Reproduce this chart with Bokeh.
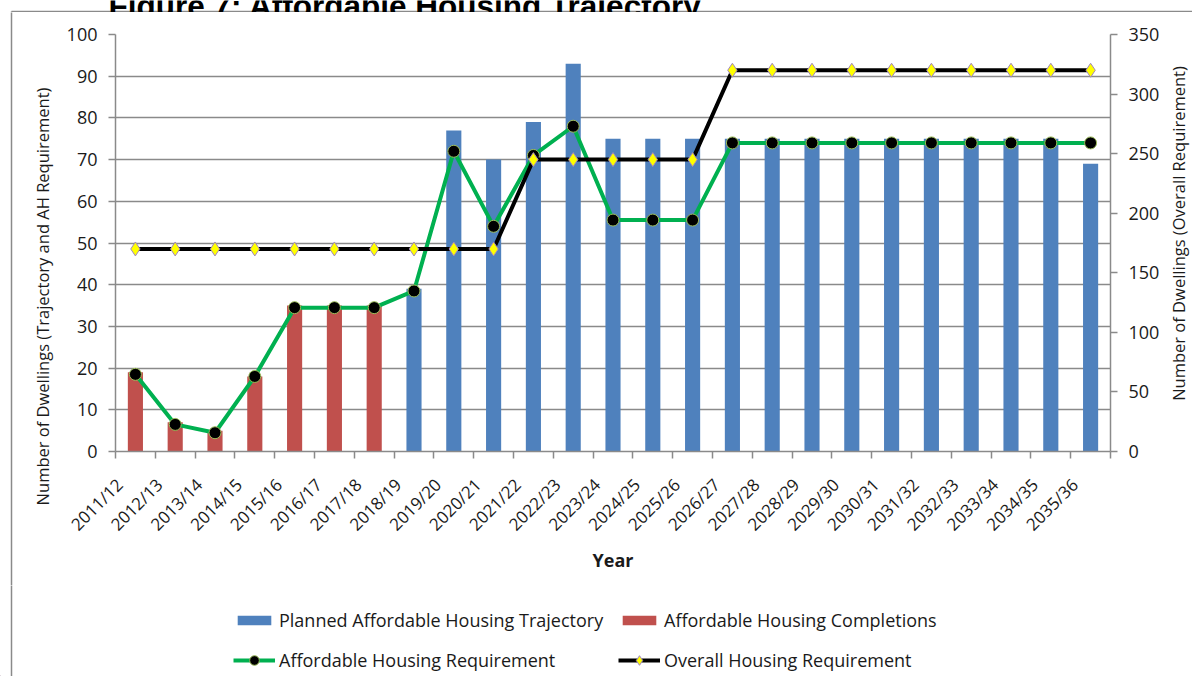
import math
from bokeh.plotting import figure
from bokeh.layouts import column, row
from bokeh.models import (Range1d, LinearAxis, FixedTicker, Legend, LegendItem,
                          Label, ColumnDataSource)
from bokeh.embed import file_html
from bokeh.resources import INLINE

# ---------------- data ----------------
years = ["2011/12", "2012/13", "2013/14", "2014/15", "2015/16", "2016/17", "2017/18",
         "2018/19", "2019/20", "2020/21", "2021/22", "2022/23", "2023/24", "2024/25",
         "2025/26", "2026/27", "2027/28", "2028/29", "2029/30", "2030/31", "2031/32",
         "2032/33", "2033/34", "2034/35", "2035/36"]
completions = [19, 7, 5, 18, 35, 35, 35, None, None, None, None, None, None, None,
               None, None, None, None, None, None, None, None, None, None, None]
trajectory = [None, None, None, None, None, None, None, 39, 77, 70, 79, 93, 75, 75,
              75, 75, 75, 75, 75, 75, 75, 75, 75, 75, 69]
ah_requirement = [18.5, 6.5, 4.5, 18, 34.5, 34.5, 34.5, 38.5, 72, 54, 71, 78, 55.5, 55.5,
                  55.5, 74, 74, 74, 74, 74, 74, 74, 74, 74, 74]
overall_requirement = [170, 170, 170, 170, 170, 170, 170, 170, 170, 170, 245, 245, 245, 245,
                       245, 320, 320, 320, 320, 320, 320, 320, 320, 320, 320]
left_ticks = [0, 10, 20, 30, 40, 50, 60, 70, 80, 90, 100]
right_ticks = [0, 50, 100, 150, 200, 250, 300, 350]

TITLE = "Figure 7: Affordable Housing Trajectory"
LEFT_TITLE = "Number of Dwellings (Trajectory and AH Requirement)"
RIGHT_TITLE = "Number of Dwellings (Overall Requirement)"
X_TITLE = "Year"
SERIES = ["Planned Affordable Housing Trajectory", "Affordable Housing Completions",
          "Affordable Housing Requirement", "Overall Housing Requirement"]

# ---------------- layout / styling ----------------
W, H = 1192, 676
TOP_H = 12                 # strip holding the cropped title
MID_H = 573                # chart row
LEG_H = H - TOP_H - MID_H  # legend strip
LEFT_W, RIGHT_W = 60, 28
P_W = W - LEFT_W - RIGHT_W
FL, FR, FT, FB = 115, 1110, 34, 451     # frame edges, page pixels

FONT = "Open Sans"
GRAY = "#8a8a8a"
TXT = "#1a1a1a"
BLUE = "#4F81BD"
RED = "#C0504D"
GREEN = "#00B050"
CIRCLE_EDGE = "#9BBB59"
DIAMOND = "#FFFF00"
DIAMOND_EDGE = "#9F86C0"


def no_frame_align(f):
    try:
        f.frame_align = False
    except Exception:
        pass


def blank(width, height):
    f = figure(width=width, height=height, x_range=Range1d(0, width),
               y_range=Range1d(0, height), output_backend="svg", toolbar_location=None,
               x_axis_location=None, y_axis_location=None,
               min_border=0, min_border_left=0, min_border_right=0,
               min_border_top=0, min_border_bottom=0)
    f.grid.visible = False
    f.outline_line_color = None
    f.background_fill_color = "white"
    f.border_fill_color = "white"
    no_frame_align(f)
    return f


n = len(years)
centers = [i + 0.5 for i in range(n)]
label_pos = [i + 0.1 for i in range(n)]

# ---------------- main chart ----------------
p = figure(width=P_W, height=MID_H, x_range=Range1d(0, n), y_range=Range1d(0, 100),
           output_backend="svg", toolbar_location=None,
           min_border_left=FL - LEFT_W, min_border_right=LEFT_W + P_W - FR,
           min_border_top=FT - TOP_H, min_border_bottom=TOP_H + MID_H - FB)
no_frame_align(p)
p.extra_y_ranges = {"overall": Range1d(0, 350)}
p.outline_line_color = None
p.background_fill_color = "white"
p.border_fill_color = "white"

tr_src = ColumnDataSource(dict(x=[centers[i] for i in range(n) if trajectory[i] is not None],
                               top=[v for v in trajectory if v is not None]))
co_src = ColumnDataSource(dict(x=[centers[i] for i in range(n) if completions[i] is not None],
                               top=[v for v in completions if v is not None]))
p.vbar(x="x", top="top", bottom=0, width=0.38, source=tr_src,
       fill_color=BLUE, line_color=None)
p.vbar(x="x", top="top", bottom=0, width=0.38, source=co_src,
       fill_color=RED, line_color=None)

ah_src = ColumnDataSource(dict(x=centers, y=ah_requirement))
p.line("x", "y", source=ah_src, line_color=GREEN, line_width=4)
p.scatter("x", "y", source=ah_src, marker="circle", size=12,
          fill_color="black", line_color=CIRCLE_EDGE, line_width=1)

ov_src = ColumnDataSource(dict(x=centers, y=overall_requirement))
p.line("x", "y", source=ov_src, line_color="black", line_width=4, y_range_name="overall")
p.scatter("x", "y", source=ov_src, marker="diamond", size=14,
          fill_color=DIAMOND, line_color=DIAMOND_EDGE, line_width=1,
          y_range_name="overall")

p.xgrid.visible = False
p.ygrid.ticker = FixedTicker(ticks=left_ticks)
p.ygrid.grid_line_color = GRAY
p.ygrid.grid_line_width = 1.5

xa = p.xaxis[0]
xa.ticker = FixedTicker(ticks=label_pos, minor_ticks=list(range(n + 1)))
xa.major_label_overrides = {c: y for c, y in zip(label_pos, years)}
xa.major_label_orientation = math.pi / 4
xa.major_tick_out = 0
xa.major_tick_in = 0
xa.minor_tick_out = 7
xa.minor_tick_in = 0
xa.minor_tick_line_color = GRAY
xa.minor_tick_line_width = 1.5
xa.axis_line_color = GRAY
xa.axis_line_width = 1.5
xa.major_label_text_font = FONT
xa.major_label_text_font_size = "17px"
xa.major_label_text_color = TXT
xa.major_label_standoff = 23
xa.axis_label = X_TITLE
xa.axis_label_text_font = FONT
xa.axis_label_text_font_style = "bold"
xa.axis_label_text_font_size = "18px"
xa.axis_label_text_color = TXT
xa.axis_label_standoff = 2

ya = p.yaxis[0]
ya.ticker = FixedTicker(ticks=left_ticks)
ya.major_tick_out = 7
ya.major_tick_in = 0
ya.minor_tick_out = 0
ya.minor_tick_in = 0
ya.major_tick_line_color = GRAY
ya.major_tick_line_width = 1.5
ya.axis_line_color = GRAY
ya.axis_line_width = 1.5
ya.major_label_text_font = FONT
ya.major_label_text_font_size = "18px"
ya.major_label_text_color = TXT
ya.major_label_standoff = 11

ra = LinearAxis(y_range_name="overall", ticker=FixedTicker(ticks=right_ticks))
ra.major_tick_out = 7
ra.major_tick_in = 0
ra.minor_tick_out = 0
ra.minor_tick_in = 0
ra.major_tick_line_color = GRAY
ra.major_tick_line_width = 1.5
ra.axis_line_color = GRAY
ra.axis_line_width = 1.5
ra.major_label_text_font = FONT
ra.major_label_text_font_size = "18px"
ra.major_label_text_color = TXT
ra.major_label_standoff = 11
p.add_layout(ra, "right")

# ---------------- side strips (axis titles, border) ----------------
left_fig = blank(LEFT_W, MID_H)
left_fig.segment(x0=[11], y0=[-5], x1=[11], y1=[MID_H + 5], line_color=GRAY, line_width=1.5)
left_fig.add_layout(Label(x=42, y=MID_H - (296 - TOP_H), text=LEFT_TITLE, angle=math.pi / 2,
                          text_font=FONT, text_font_size="16.5px", text_color=TXT,
                          text_align="center", text_baseline="middle"))

right_fig = blank(RIGHT_W, MID_H)
right_fig.add_layout(Label(x=14, y=MID_H - (233 - TOP_H), text=RIGHT_TITLE, angle=math.pi / 2,
                           text_font=FONT, text_font_size="16.5px", text_color=TXT,
                           text_align="center", text_baseline="middle"))

top_fig = blank(W, TOP_H)
top_fig.segment(x0=[11], y0=[TOP_H - 11], x1=[W + 5], y1=[TOP_H - 11],
                line_color=GRAY, line_width=1.5)
top_fig.segment(x0=[11], y0=[-5], x1=[11], y1=[TOP_H - 11], line_color=GRAY, line_width=1.5)
top_fig.add_layout(Label(x=108, y=TOP_H - 5, text=TITLE,
                         text_font="Liberation Sans", text_font_style="bold",
                         text_font_size="31.5px", text_color="black",
                         text_baseline="alphabetic", text_align="left"))

# ---------------- legend strip ----------------
leg_fig = blank(W, LEG_H)
leg_fig.segment(x0=[11], y0=[-5], x1=[11], y1=[LEG_H + 5], line_color=GRAY, line_width=1.5)
OFF = [-1000]   # swatch renderers keep one point far outside the strip
g_tr = leg_fig.vbar(x=OFF, top=[1], width=1, fill_color=BLUE, line_color=None)
g_co = leg_fig.vbar(x=OFF, top=[1], width=1, fill_color=RED, line_color=None)
g_ah_l = leg_fig.line(x=OFF, y=[1], line_color=GREEN, line_width=4)
g_ah_m = leg_fig.scatter(x=OFF, y=[1], marker="circle", size=12, fill_color="black",
                         line_color=CIRCLE_EDGE, line_width=1)
g_ov_l = leg_fig.line(x=OFF, y=[1], line_color="black", line_width=4)
g_ov_m = leg_fig.scatter(x=OFF, y=[1], marker="diamond", size=14, fill_color=DIAMOND,
                         line_color=DIAMOND_EDGE, line_width=1)


def legend_row(items, y, glyph_h):
    return Legend(items=items, location=(233, y), orientation="horizontal",
                  glyph_width=42, glyph_height=glyph_h, label_height=26, label_width=325,
                  label_standoff=4, spacing=14, padding=0, margin=0,
                  border_line_color=None, background_fill_alpha=0,
                  label_text_font=FONT, label_text_font_size="18px", label_text_color=TXT)


leg_bars = legend_row([LegendItem(label=SERIES[0], renderers=[g_tr]),
                       LegendItem(label=SERIES[1], renderers=[g_co])], 43, 12)
leg_lines = legend_row([LegendItem(label=SERIES[2], renderers=[g_ah_l, g_ah_m]),
                        LegendItem(label=SERIES[3], renderers=[g_ov_l, g_ov_m])], 3, 24)
leg_fig.add_layout(leg_bars, "center")
leg_fig.add_layout(leg_lines, "center")

layout = column(top_fig, row(left_fig, p, right_fig), leg_fig)

open("out.html", "w").write(file_html(layout, INLINE))
